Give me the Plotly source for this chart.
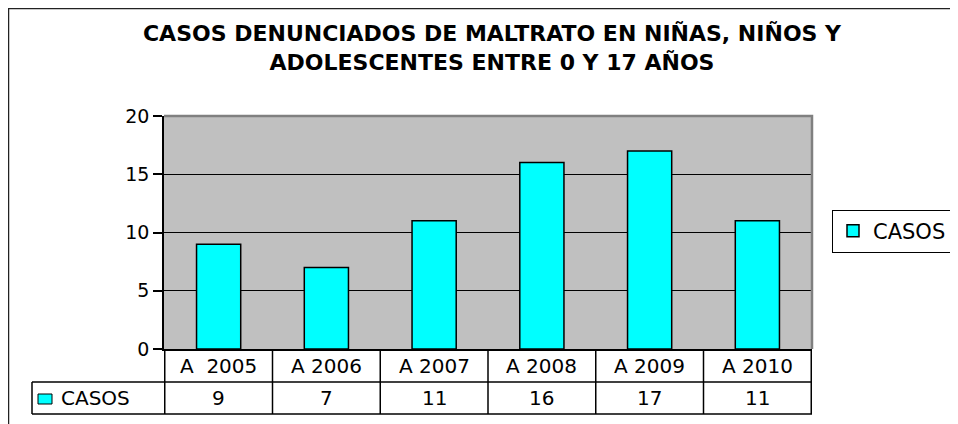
import plotly.graph_objects as go

# Data
categories = ["A  2005", "A 2006", "A 2007", "A 2008", "A 2009", "A 2010"]
casos = [9, 7, 11, 16, 17, 11]
series_name = "CASOS"
title_lines = ["CASOS DENUNCIADOS DE MALTRATO EN NIÑAS, NIÑOS Y",
               "ADOLESCENTES ENTRE 0 Y 17 AÑOS"]

# the page body has an 8px margin, so work in page pixels and shift
OFF = 8
W, H = 958 - OFF, 424 - OFF
L = 164 - OFF
T = 116 - OFF
R = W - (812 - OFF)
B = H - (349 - OFF)
PW, PH = W - L - R, H - T - B


def px_x(x):
    return (x - OFF - L) / PW


def px_y(y):
    return (H - B - (y - OFF)) / PH


FONT = "DejaVu Sans"
CYAN = "#00FFFF"

fig = go.Figure()

fig.add_trace(
    go.Bar(
        x=categories,
        y=casos,
        name=series_name,
        marker=dict(color=CYAN, line=dict(color="black", width=1.5)),
    )
)

# Data table under the chart
row1_bot = px_y(382)
row2_bot = px_y(414)
key_left = px_x(32)

shapes = []
n = len(categories)
for i in range(n + 1):
    shapes.append(dict(type="line", xref="x", yref="paper",
                       x0=i - 0.5, x1=i - 0.5, y0=0, y1=row2_bot,
                       line=dict(color="black", width=1.5)))
shapes.append(dict(type="line", xref="paper", yref="paper",
                   x0=key_left, x1=1, y0=row1_bot, y1=row1_bot,
                   line=dict(color="black", width=1.5)))
shapes.append(dict(type="line", xref="paper", yref="paper",
                   x0=key_left, x1=1, y0=row2_bot, y1=row2_bot,
                   line=dict(color="black", width=1.5)))
shapes.append(dict(type="line", xref="paper", yref="paper",
                   x0=key_left, x1=key_left, y0=row1_bot, y1=row2_bot,
                   line=dict(color="black", width=1.5)))
# legend key swatch inside the table
shapes.append(dict(type="rect", xref="paper", yref="paper",
                   x0=px_x(38), x1=px_x(52), y0=px_y(404), y1=px_y(394),
                   fillcolor=CYAN, line=dict(color="black", width=1)))
# top / right border of plot area (gray)
shapes.append(dict(type="path", xref="paper", yref="paper",
                   path="M 0 1 L 1 1 L 1 0",
                   line=dict(color="#808080", width=2.5)))
# outer chart border
shapes.append(dict(type="rect", xref="paper", yref="paper",
                   x0=px_x(8.5), x1=2, y0=-2, y1=px_y(8.5),
                   line=dict(color="#222222", width=1.5)))

annotations = []
for cat, val in zip(categories, casos):
    annotations.append(dict(x=cat, xref="x", y=px_y(366), yref="paper",
                            text=cat.replace("  ", "\u00a0 "), showarrow=False,
                            yanchor="middle",
                            font=dict(family=FONT, size=20, color="black")))
    annotations.append(dict(x=cat, xref="x", y=px_y(398), yref="paper",
                            text=str(val), showarrow=False, yanchor="middle",
                            font=dict(family=FONT, size=20, color="black")))
annotations.append(dict(x=px_x(59), xref="paper", y=px_y(398), yref="paper",
                        text=series_name, showarrow=False, xanchor="left",
                        yanchor="middle",
                        font=dict(family=FONT, size=20, color="black")))

fig.update_layout(
    width=W,
    height=H,
    margin=dict(l=L, r=R, t=T, b=B, autoexpand=False),
    paper_bgcolor="white",
    plot_bgcolor="#C0C0C0",
    bargap=0.59,
    title=dict(
        text="<b>" + "<br>".join(title_lines) + "</b>",
        x=(492 - OFF) / W,
        xanchor="center",
        y=1 - 33 / H,
        yanchor="top",
        font=dict(family=FONT, size=22, color="black"),
    ),
    showlegend=True,
    legend=dict(
        x=px_x(832), y=px_y(231), xanchor="left", yanchor="middle",
        bordercolor="black", borderwidth=1, bgcolor="white",
        font=dict(family=FONT, size=21, color="black"),
    ),
    shapes=shapes,
    annotations=annotations,
)

fig.update_xaxes(
    showticklabels=False,
    showline=True, linecolor="black", linewidth=1.5,
    showgrid=False,
)
fig.update_yaxes(
    range=[0, 20],
    dtick=5,
    showgrid=True, gridcolor="black", gridwidth=1,
    zeroline=False,
    showline=True, linecolor="black", linewidth=1.5,
    ticks="outside", ticklen=9, tickcolor="black", tickwidth=1.5,
    tickfont=dict(family=FONT, size=19, color="black"),
)

fig.write_html("out.html")
